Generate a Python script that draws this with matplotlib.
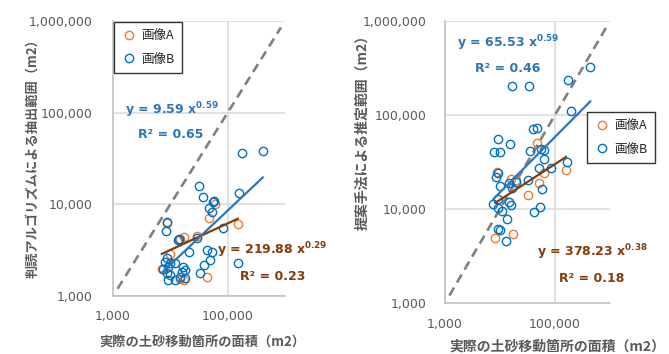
import numpy as np
import matplotlib
matplotlib.use("Agg")
import matplotlib.pyplot as plt
from matplotlib.ticker import FuncFormatter, FixedLocator, NullLocator

plt.rcParams["font.family"] = ["DejaVu Sans"]
JP = ["Noto Sans CJK JP", "DejaVu Sans"]

# --- left chart: actual area vs. area extracted by the algorithm (m2)
left_a_x = [150000, 47000, 60000, 8700, 17200, 29000, 43000, 7100, 14600, 14600, 10000, 17000]
left_a_y = [6100, 7100, 10000, 6250, 4400, 4500, 1610, 1970, 1530, 4200, 2900, 1500]
left_b_x = [410000, 180000, 155000, 31000, 37000, 57000, 55000, 47000, 53000, 82000,
            8700, 8300, 29000, 13500, 14000, 21000, 43000, 53000, 49000, 38000,
            150000, 33000, 8700, 8000, 9800, 9050, 12000, 16500, 15800, 17900,
            8700, 9800, 14600, 17900, 12000, 9050, 7400]
left_b_y = [38000, 36000, 13300, 16000, 12000, 10900, 10500, 9100, 8200, 5500,
            6400, 5100, 4300, 4100, 4200, 3000, 3200, 3000, 2500, 2200,
            2300, 1800, 2600, 2350, 2290, 2070, 2290, 2070, 1830, 1920,
            1780, 1690, 1610, 1570, 1490, 1490, 1970]

# --- right chart: actual area vs. area estimated by the proposed method (m2)
right_a_x = [46800, 9000, 15600, 19200, 62800, 50800, 32000, 159000, 8260, 16900]
right_a_y = [50400, 24800, 20800, 20400, 24200, 18900, 14100, 26000, 4910, 5420]
right_b_x = [438000, 173000, 16300, 33300, 197000, 46800, 39500, 9380, 14900, 7930,
             9800, 34800, 55300, 62800, 62800, 50800, 84500, 166000, 9380, 8630,
             9800, 14300, 16300, 19200, 32000, 57700, 9380, 7600, 14300, 15600,
             9380, 11100, 53100, 41200, 13200, 9380, 9800, 12600]
right_b_y = [324000, 236000, 204000, 204000, 110000, 72800, 71000, 55600, 49100, 40400,
             40400, 41400, 43500, 42400, 34000, 27300, 27300, 31600, 24200, 21900,
             17600, 18900, 16700, 19400, 20400, 16300, 12800, 11300, 11900, 11000,
             10300, 9530, 10500, 9290, 7830, 6120, 6000, 4570]

# power trendlines as printed on the chart: (coef, exponent, R2)
left_fit_a = (219.88, 0.29, 0.23)
left_fit_b = (9.59, 0.59, 0.65)
right_fit_a = (378.23, 0.38, 0.18)
right_fit_b = (65.53, 0.59, 0.46)

series_names = ["画像A", "画像B"]
y_titles = ["判読アルゴリズムによる抽出範囲（m2）", "提案手法による推定範囲（m2）"]
x_title = "実際の土砂移動箇所の面積（m2）"

ORANGE = "#ED7D31"
BLUE = "#0070C0"
BLUE_LINE = "#2E75B6"
BROWN = "#843C0C"
GRAY_TXT = "#595959"

W, H = 669, 354
fig = plt.figure(figsize=(W / 100, H / 100), dpi=100)


def px_axes(x0, y0, x1, y1):
    return fig.add_axes([x0 / W, 1 - y1 / H, (x1 - x0) / W, (y1 - y0) / H])


def style_axes(ax, ypad, xpad):
    ax.set_xscale("log")
    ax.set_yscale("log")
    ax.set_xlim(1e3, 1e6)
    ax.set_ylim(1e3, 1e6)
    ax.xaxis.set_major_locator(FixedLocator([1e3, 1e5]))
    ax.yaxis.set_major_locator(FixedLocator([1e3, 1e4, 1e5, 1e6]))
    ax.xaxis.set_minor_locator(NullLocator())
    ax.yaxis.set_minor_locator(NullLocator())
    fmt = FuncFormatter(lambda v, p: f"{v:,.0f}")
    ax.xaxis.set_major_formatter(fmt)
    ax.yaxis.set_major_formatter(fmt)
    ax.tick_params(axis="y", length=0, pad=ypad, labelsize=9, labelcolor=GRAY_TXT)
    ax.tick_params(axis="x", length=0, pad=xpad, labelsize=9, labelcolor=GRAY_TXT)
    ax.grid(True, color="#D9D9D9", lw=1.1)
    ax.set_axisbelow(True)
    for s in ["top", "right"]:
        ax.spines[s].set_visible(False)
    for s in ["left", "bottom"]:
        ax.spines[s].set_color("#BFBFBF")
        ax.spines[s].set_linewidth(1.1)


def draw_panel(ax, ax_, ay_, bx_, by_, fit_a, fit_b):
    ax.plot([1200, 850000], [1200, 850000], color="#808080", lw=1.9,
            linestyle=(0, (3.5, 2.2)), zorder=1)
    ax.plot(ax_, ay_, "o", ms=6, mfc="none", mec=ORANGE, mew=1.0,
            label=series_names[0], zorder=3)
    ax.plot(bx_, by_, "o", ms=6, mfc="none", mec=BLUE, mew=1.0,
            label=series_names[1], zorder=3)
    for xs, (c, e, _), col in [(ax_, fit_a, BROWN), (bx_, fit_b, BLUE_LINE)]:
        xx = np.geomspace(min(xs), max(xs), 50)
        ax.plot(xx, c * xx ** e, color=col, lw=1.6, zorder=4)


def eq_text(x, y, fit, color):
    c, e, r2 = fit
    fig.text(x / W, 1 - y / H, f"y = {c:.2f} x$^{{\\mathbf{{{e:.2f}}}}}$",
             ha="center", va="center", fontsize=9, fontweight="bold", color=color)


def r2_text(x, y, fit, color):
    fig.text(x / W, 1 - y / H, f"R² = {fit[2]:.2f}",
             ha="center", va="center", fontsize=9, fontweight="bold", color=color)


def legend(ax, x, y):
    leg = ax.legend(loc="upper left", bbox_to_anchor=(x / W, 1 - y / H),
                    bbox_transform=fig.transFigure, prop={"family": JP, "size": 9},
                    frameon=True, fancybox=False, edgecolor="black",
                    handlelength=1.2, handletextpad=0.35, borderpad=0.6,
                    labelspacing=0.8, borderaxespad=0)
    leg.get_frame().set_linewidth(1.0)
    for t in leg.get_texts():
        t.set_color("#262626")
    leg.set_zorder(6)


# left chart
ax1 = px_axes(113, 21, 285, 296)
style_axes(ax1, ypad=15, xpad=10)
draw_panel(ax1, left_a_x, left_a_y, left_b_x, left_b_y, left_fit_a, left_fit_b)
legend(ax1, 114, 22)
eq_text(172, 110, left_fit_b, BLUE_LINE)
r2_text(171, 135, left_fit_b, BLUE_LINE)
eq_text(272, 250, left_fit_a, BROWN)
r2_text(273, 276, left_fit_a, BROWN)
fig.text(32 / W, 1 - 155 / H, y_titles[0], rotation=90, ha="center", va="center",
         family=JP, fontsize=9.5, fontweight="bold", color=GRAY_TXT)
fig.text(202 / W, 1 - 342 / H, x_title, ha="center", va="center",
         family=JP, fontsize=9.5, fontweight="bold", color=GRAY_TXT)

# right chart
ax2 = px_axes(445, 21, 610, 303)
style_axes(ax2, ypad=13.5, xpad=11)
draw_panel(ax2, right_a_x, right_a_y, right_b_x, right_b_y, right_fit_a, right_fit_b)
legend(ax2, 587, 112)
eq_text(508, 43, right_fit_b, BLUE_LINE)
r2_text(508, 68, right_fit_b, BLUE_LINE)
eq_text(592, 252, right_fit_a, BROWN)
r2_text(592, 278, right_fit_a, BROWN)
fig.text(362 / W, 1 - 129 / H, y_titles[1], rotation=90, ha="center", va="center",
         family=JP, fontsize=10, fontweight="bold", color=GRAY_TXT)
fig.text(557 / W, 1 - 347 / H, x_title, ha="center", va="center",
         family=JP, fontsize=10, fontweight="bold", color=GRAY_TXT)

fig.savefig("out.png", dpi=100, facecolor="white")
